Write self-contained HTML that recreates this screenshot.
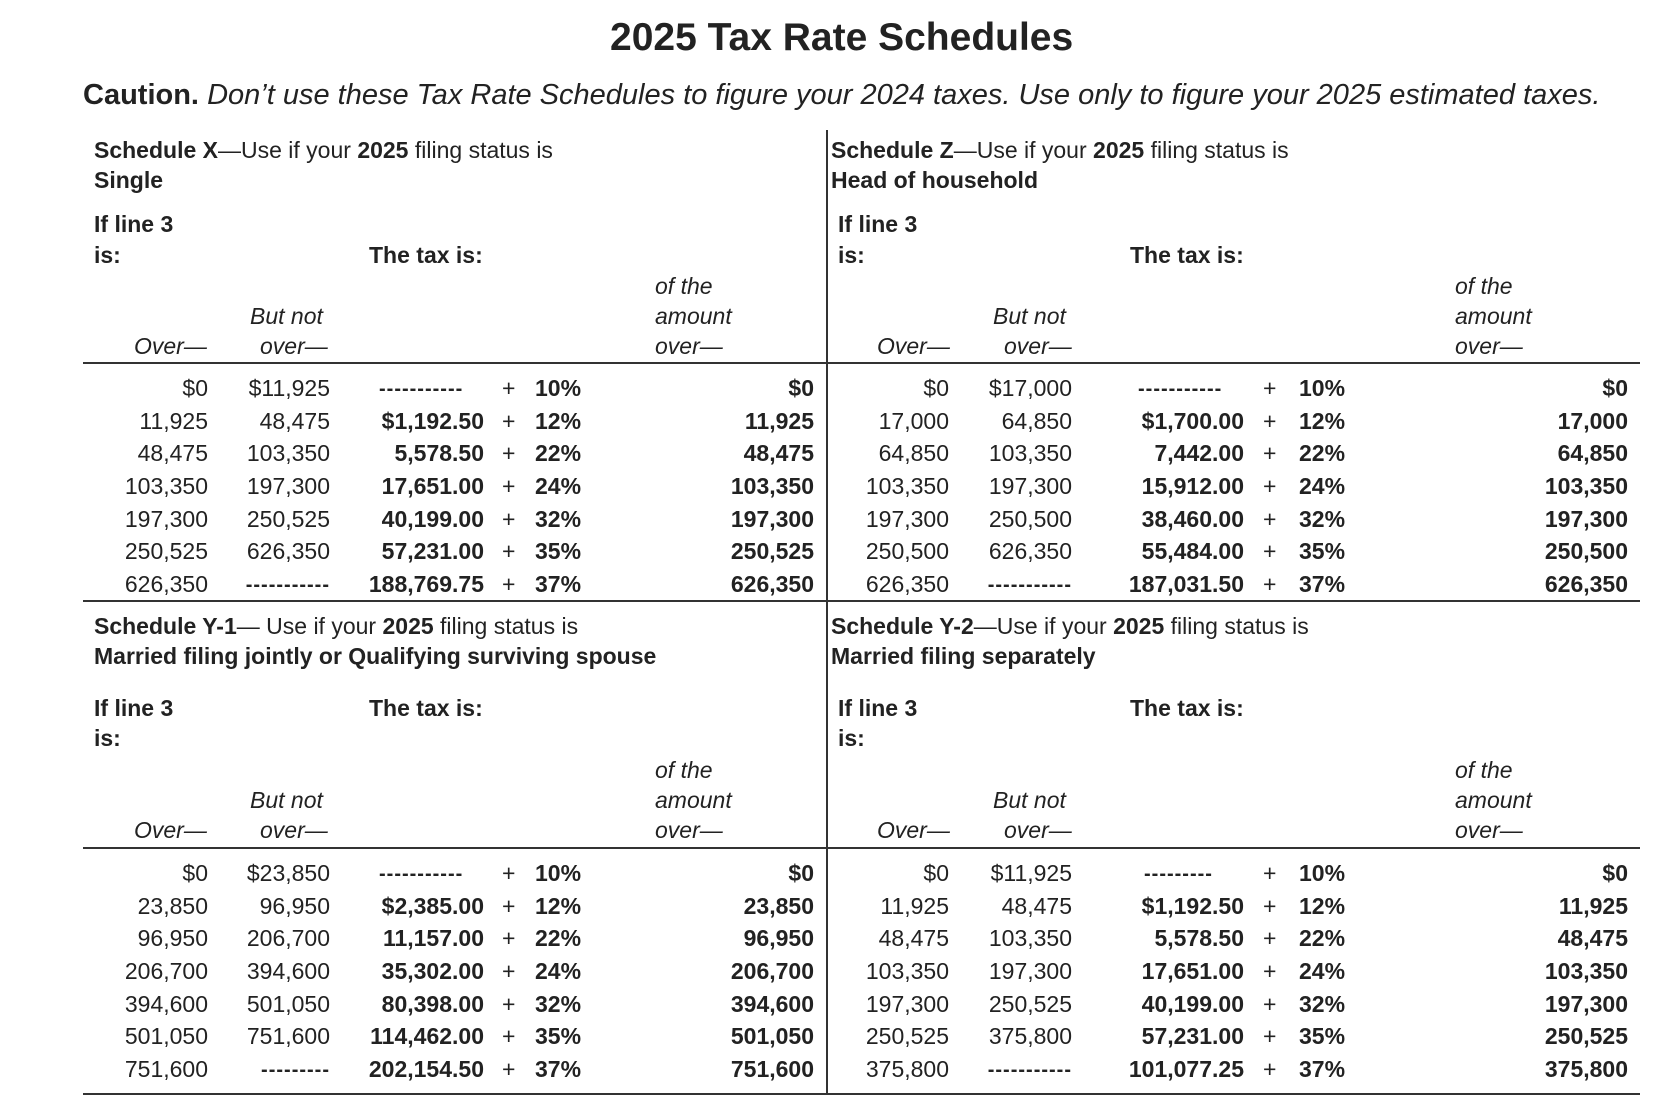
<!DOCTYPE html>
<html><head><meta charset="utf-8">
<style>
html,body{margin:0;padding:0;background:#fff;}
body{width:1664px;height:1116px;position:relative;overflow:hidden;font-family:"Liberation Sans",Arial,sans-serif;color:#222;}
.x{position:absolute;white-space:nowrap;font-size:23px;line-height:26px;}
.b{font-weight:bold;}
.i{font-style:italic;}
.hl{position:absolute;left:83px;width:1557px;height:2px;background:#333;}
.vl{position:absolute;left:826px;top:130px;width:2px;height:964px;background:#333;}
.row{position:absolute;left:0;width:1664px;height:26px;}
.row span{position:absolute;top:0;white-space:nowrap;font-size:23px;line-height:26px;}
.row .d{font-size:20px;font-weight:bold;letter-spacing:1px;line-height:28px;}
</style></head><body>
<div class="x b" style="left:610px;top:16px;font-size:39px;line-height:44px;">2025 Tax Rate Schedules</div>
<div class="x" style="left:83px;top:79px;font-size:29px;line-height:32px;"><b>Caution.</b> <i>Don’t use these Tax Rate Schedules to figure your 2024 taxes. Use only to figure your 2025 estimated taxes.</i></div>
<div class="vl"></div>
<div class="hl" style="top:362px"></div>
<div class="hl" style="top:600px"></div>
<div class="hl" style="top:847px"></div>
<div class="hl" style="top:1093px"></div>

<div class="x" style="left:94px;top:137px"><b>Schedule X</b>—Use if your <b>2025</b> filing status is</div>
<div class="x b" style="left:94px;top:167px">Single</div>
<div class="x" style="left:831px;top:137px"><b>Schedule Z</b>—Use if your <b>2025</b> filing status is</div>
<div class="x b" style="left:831px;top:167px">Head of household</div>

<div class="x" style="left:94px;top:613px"><b>Schedule Y-1</b>— Use if your <b>2025</b> filing status is</div>
<div class="x b" style="left:94px;top:643px">Married filing jointly or Qualifying surviving spouse</div>
<div class="x" style="left:831px;top:613px"><b>Schedule Y-2</b>—Use if your <b>2025</b> filing status is</div>
<div class="x b" style="left:831px;top:643px">Married filing separately</div>

<div class="x b" style="left:94px;top:211px">If line 3</div>
<div class="x b" style="left:94px;top:242px">is:</div>
<div class="x b" style="left:369px;top:242px">The tax is:</div>
<div class="x i" style="left:655px;top:273px">of the</div>
<div class="x i" style="left:655px;top:303px">amount</div>
<div class="x i" style="left:655px;top:333px">over—</div>
<div class="x i" style="left:250px;top:303px">But not</div>
<div class="x i" style="left:260px;top:333px">over—</div>
<div class="x i" style="left:134px;top:333px">Over—</div>

<div class="x b" style="left:838px;top:211px">If line 3</div>
<div class="x b" style="left:838px;top:242px">is:</div>
<div class="x b" style="left:1130px;top:242px">The tax is:</div>
<div class="x i" style="left:1455px;top:273px">of the</div>
<div class="x i" style="left:1455px;top:303px">amount</div>
<div class="x i" style="left:1455px;top:333px">over—</div>
<div class="x i" style="left:993px;top:303px">But not</div>
<div class="x i" style="left:1004px;top:333px">over—</div>
<div class="x i" style="left:877px;top:333px">Over—</div>

<div class="x b" style="left:94px;top:695px">If line 3</div>
<div class="x b" style="left:94px;top:725px">is:</div>
<div class="x b" style="left:369px;top:695px">The tax is:</div>
<div class="x i" style="left:655px;top:757px">of the</div>
<div class="x i" style="left:655px;top:787px">amount</div>
<div class="x i" style="left:655px;top:817px">over—</div>
<div class="x i" style="left:250px;top:787px">But not</div>
<div class="x i" style="left:260px;top:817px">over—</div>
<div class="x i" style="left:134px;top:817px">Over—</div>

<div class="x b" style="left:838px;top:695px">If line 3</div>
<div class="x b" style="left:838px;top:725px">is:</div>
<div class="x b" style="left:1130px;top:695px">The tax is:</div>
<div class="x i" style="left:1455px;top:757px">of the</div>
<div class="x i" style="left:1455px;top:787px">amount</div>
<div class="x i" style="left:1455px;top:817px">over—</div>
<div class="x i" style="left:993px;top:787px">But not</div>
<div class="x i" style="left:1004px;top:817px">over—</div>
<div class="x i" style="left:877px;top:817px">Over—</div>

<div class="row" style="top:375px">
<span style="right:1456px">$0</span><span style="right:1334px">$11,925</span><span class="d" style="left:379px">-----------</span><span style="left:502px">+</span><span class="b" style="left:535px">10%</span><span class="b" style="right:850px">$0</span>
<span style="right:715px">$0</span><span style="right:592px">$17,000</span><span class="d" style="left:1138px">-----------</span><span style="left:1263px">+</span><span class="b" style="left:1299px">10%</span><span class="b" style="right:36px">$0</span></div>
<div class="row" style="top:408px">
<span style="right:1456px">11,925</span><span style="right:1334px">48,475</span><span class="b" style="right:1180px">$1,192.50</span><span style="left:502px">+</span><span class="b" style="left:535px">12%</span><span class="b" style="right:850px">11,925</span>
<span style="right:715px">17,000</span><span style="right:592px">64,850</span><span class="b" style="right:420px">$1,700.00</span><span style="left:1263px">+</span><span class="b" style="left:1299px">12%</span><span class="b" style="right:36px">17,000</span></div>
<div class="row" style="top:440px">
<span style="right:1456px">48,475</span><span style="right:1334px">103,350</span><span class="b" style="right:1180px">5,578.50</span><span style="left:502px">+</span><span class="b" style="left:535px">22%</span><span class="b" style="right:850px">48,475</span>
<span style="right:715px">64,850</span><span style="right:592px">103,350</span><span class="b" style="right:420px">7,442.00</span><span style="left:1263px">+</span><span class="b" style="left:1299px">22%</span><span class="b" style="right:36px">64,850</span></div>
<div class="row" style="top:473px">
<span style="right:1456px">103,350</span><span style="right:1334px">197,300</span><span class="b" style="right:1180px">17,651.00</span><span style="left:502px">+</span><span class="b" style="left:535px">24%</span><span class="b" style="right:850px">103,350</span>
<span style="right:715px">103,350</span><span style="right:592px">197,300</span><span class="b" style="right:420px">15,912.00</span><span style="left:1263px">+</span><span class="b" style="left:1299px">24%</span><span class="b" style="right:36px">103,350</span></div>
<div class="row" style="top:506px">
<span style="right:1456px">197,300</span><span style="right:1334px">250,525</span><span class="b" style="right:1180px">40,199.00</span><span style="left:502px">+</span><span class="b" style="left:535px">32%</span><span class="b" style="right:850px">197,300</span>
<span style="right:715px">197,300</span><span style="right:592px">250,500</span><span class="b" style="right:420px">38,460.00</span><span style="left:1263px">+</span><span class="b" style="left:1299px">32%</span><span class="b" style="right:36px">197,300</span></div>
<div class="row" style="top:538px">
<span style="right:1456px">250,525</span><span style="right:1334px">626,350</span><span class="b" style="right:1180px">57,231.00</span><span style="left:502px">+</span><span class="b" style="left:535px">35%</span><span class="b" style="right:850px">250,525</span>
<span style="right:715px">250,500</span><span style="right:592px">626,350</span><span class="b" style="right:420px">55,484.00</span><span style="left:1263px">+</span><span class="b" style="left:1299px">35%</span><span class="b" style="right:36px">250,500</span></div>
<div class="row" style="top:571px">
<span style="right:1456px">626,350</span><span class="d" style="right:1334px">-----------</span><span class="b" style="right:1180px">188,769.75</span><span style="left:502px">+</span><span class="b" style="left:535px">37%</span><span class="b" style="right:850px">626,350</span>
<span style="right:715px">626,350</span><span class="d" style="right:592px">-----------</span><span class="b" style="right:420px">187,031.50</span><span style="left:1263px">+</span><span class="b" style="left:1299px">37%</span><span class="b" style="right:36px">626,350</span></div>

<div class="row" style="top:860px">
<span style="right:1456px">$0</span><span style="right:1334px">$23,850</span><span class="d" style="left:379px">-----------</span><span style="left:502px">+</span><span class="b" style="left:535px">10%</span><span class="b" style="right:850px">$0</span>
<span style="right:715px">$0</span><span style="right:592px">$11,925</span><span class="d" style="left:1144px">---------</span><span style="left:1263px">+</span><span class="b" style="left:1299px">10%</span><span class="b" style="right:36px">$0</span></div>
<div class="row" style="top:893px">
<span style="right:1456px">23,850</span><span style="right:1334px">96,950</span><span class="b" style="right:1180px">$2,385.00</span><span style="left:502px">+</span><span class="b" style="left:535px">12%</span><span class="b" style="right:850px">23,850</span>
<span style="right:715px">11,925</span><span style="right:592px">48,475</span><span class="b" style="right:420px">$1,192.50</span><span style="left:1263px">+</span><span class="b" style="left:1299px">12%</span><span class="b" style="right:36px">11,925</span></div>
<div class="row" style="top:925px">
<span style="right:1456px">96,950</span><span style="right:1334px">206,700</span><span class="b" style="right:1180px">11,157.00</span><span style="left:502px">+</span><span class="b" style="left:535px">22%</span><span class="b" style="right:850px">96,950</span>
<span style="right:715px">48,475</span><span style="right:592px">103,350</span><span class="b" style="right:420px">5,578.50</span><span style="left:1263px">+</span><span class="b" style="left:1299px">22%</span><span class="b" style="right:36px">48,475</span></div>
<div class="row" style="top:958px">
<span style="right:1456px">206,700</span><span style="right:1334px">394,600</span><span class="b" style="right:1180px">35,302.00</span><span style="left:502px">+</span><span class="b" style="left:535px">24%</span><span class="b" style="right:850px">206,700</span>
<span style="right:715px">103,350</span><span style="right:592px">197,300</span><span class="b" style="right:420px">17,651.00</span><span style="left:1263px">+</span><span class="b" style="left:1299px">24%</span><span class="b" style="right:36px">103,350</span></div>
<div class="row" style="top:991px">
<span style="right:1456px">394,600</span><span style="right:1334px">501,050</span><span class="b" style="right:1180px">80,398.00</span><span style="left:502px">+</span><span class="b" style="left:535px">32%</span><span class="b" style="right:850px">394,600</span>
<span style="right:715px">197,300</span><span style="right:592px">250,525</span><span class="b" style="right:420px">40,199.00</span><span style="left:1263px">+</span><span class="b" style="left:1299px">32%</span><span class="b" style="right:36px">197,300</span></div>
<div class="row" style="top:1023px">
<span style="right:1456px">501,050</span><span style="right:1334px">751,600</span><span class="b" style="right:1180px">114,462.00</span><span style="left:502px">+</span><span class="b" style="left:535px">35%</span><span class="b" style="right:850px">501,050</span>
<span style="right:715px">250,525</span><span style="right:592px">375,800</span><span class="b" style="right:420px">57,231.00</span><span style="left:1263px">+</span><span class="b" style="left:1299px">35%</span><span class="b" style="right:36px">250,525</span></div>
<div class="row" style="top:1056px">
<span style="right:1456px">751,600</span><span class="d" style="right:1334px">---------</span><span class="b" style="right:1180px">202,154.50</span><span style="left:502px">+</span><span class="b" style="left:535px">37%</span><span class="b" style="right:850px">751,600</span>
<span style="right:715px">375,800</span><span class="d" style="right:592px">-----------</span><span class="b" style="right:420px">101,077.25</span><span style="left:1263px">+</span><span class="b" style="left:1299px">37%</span><span class="b" style="right:36px">375,800</span></div>
</body></html>
